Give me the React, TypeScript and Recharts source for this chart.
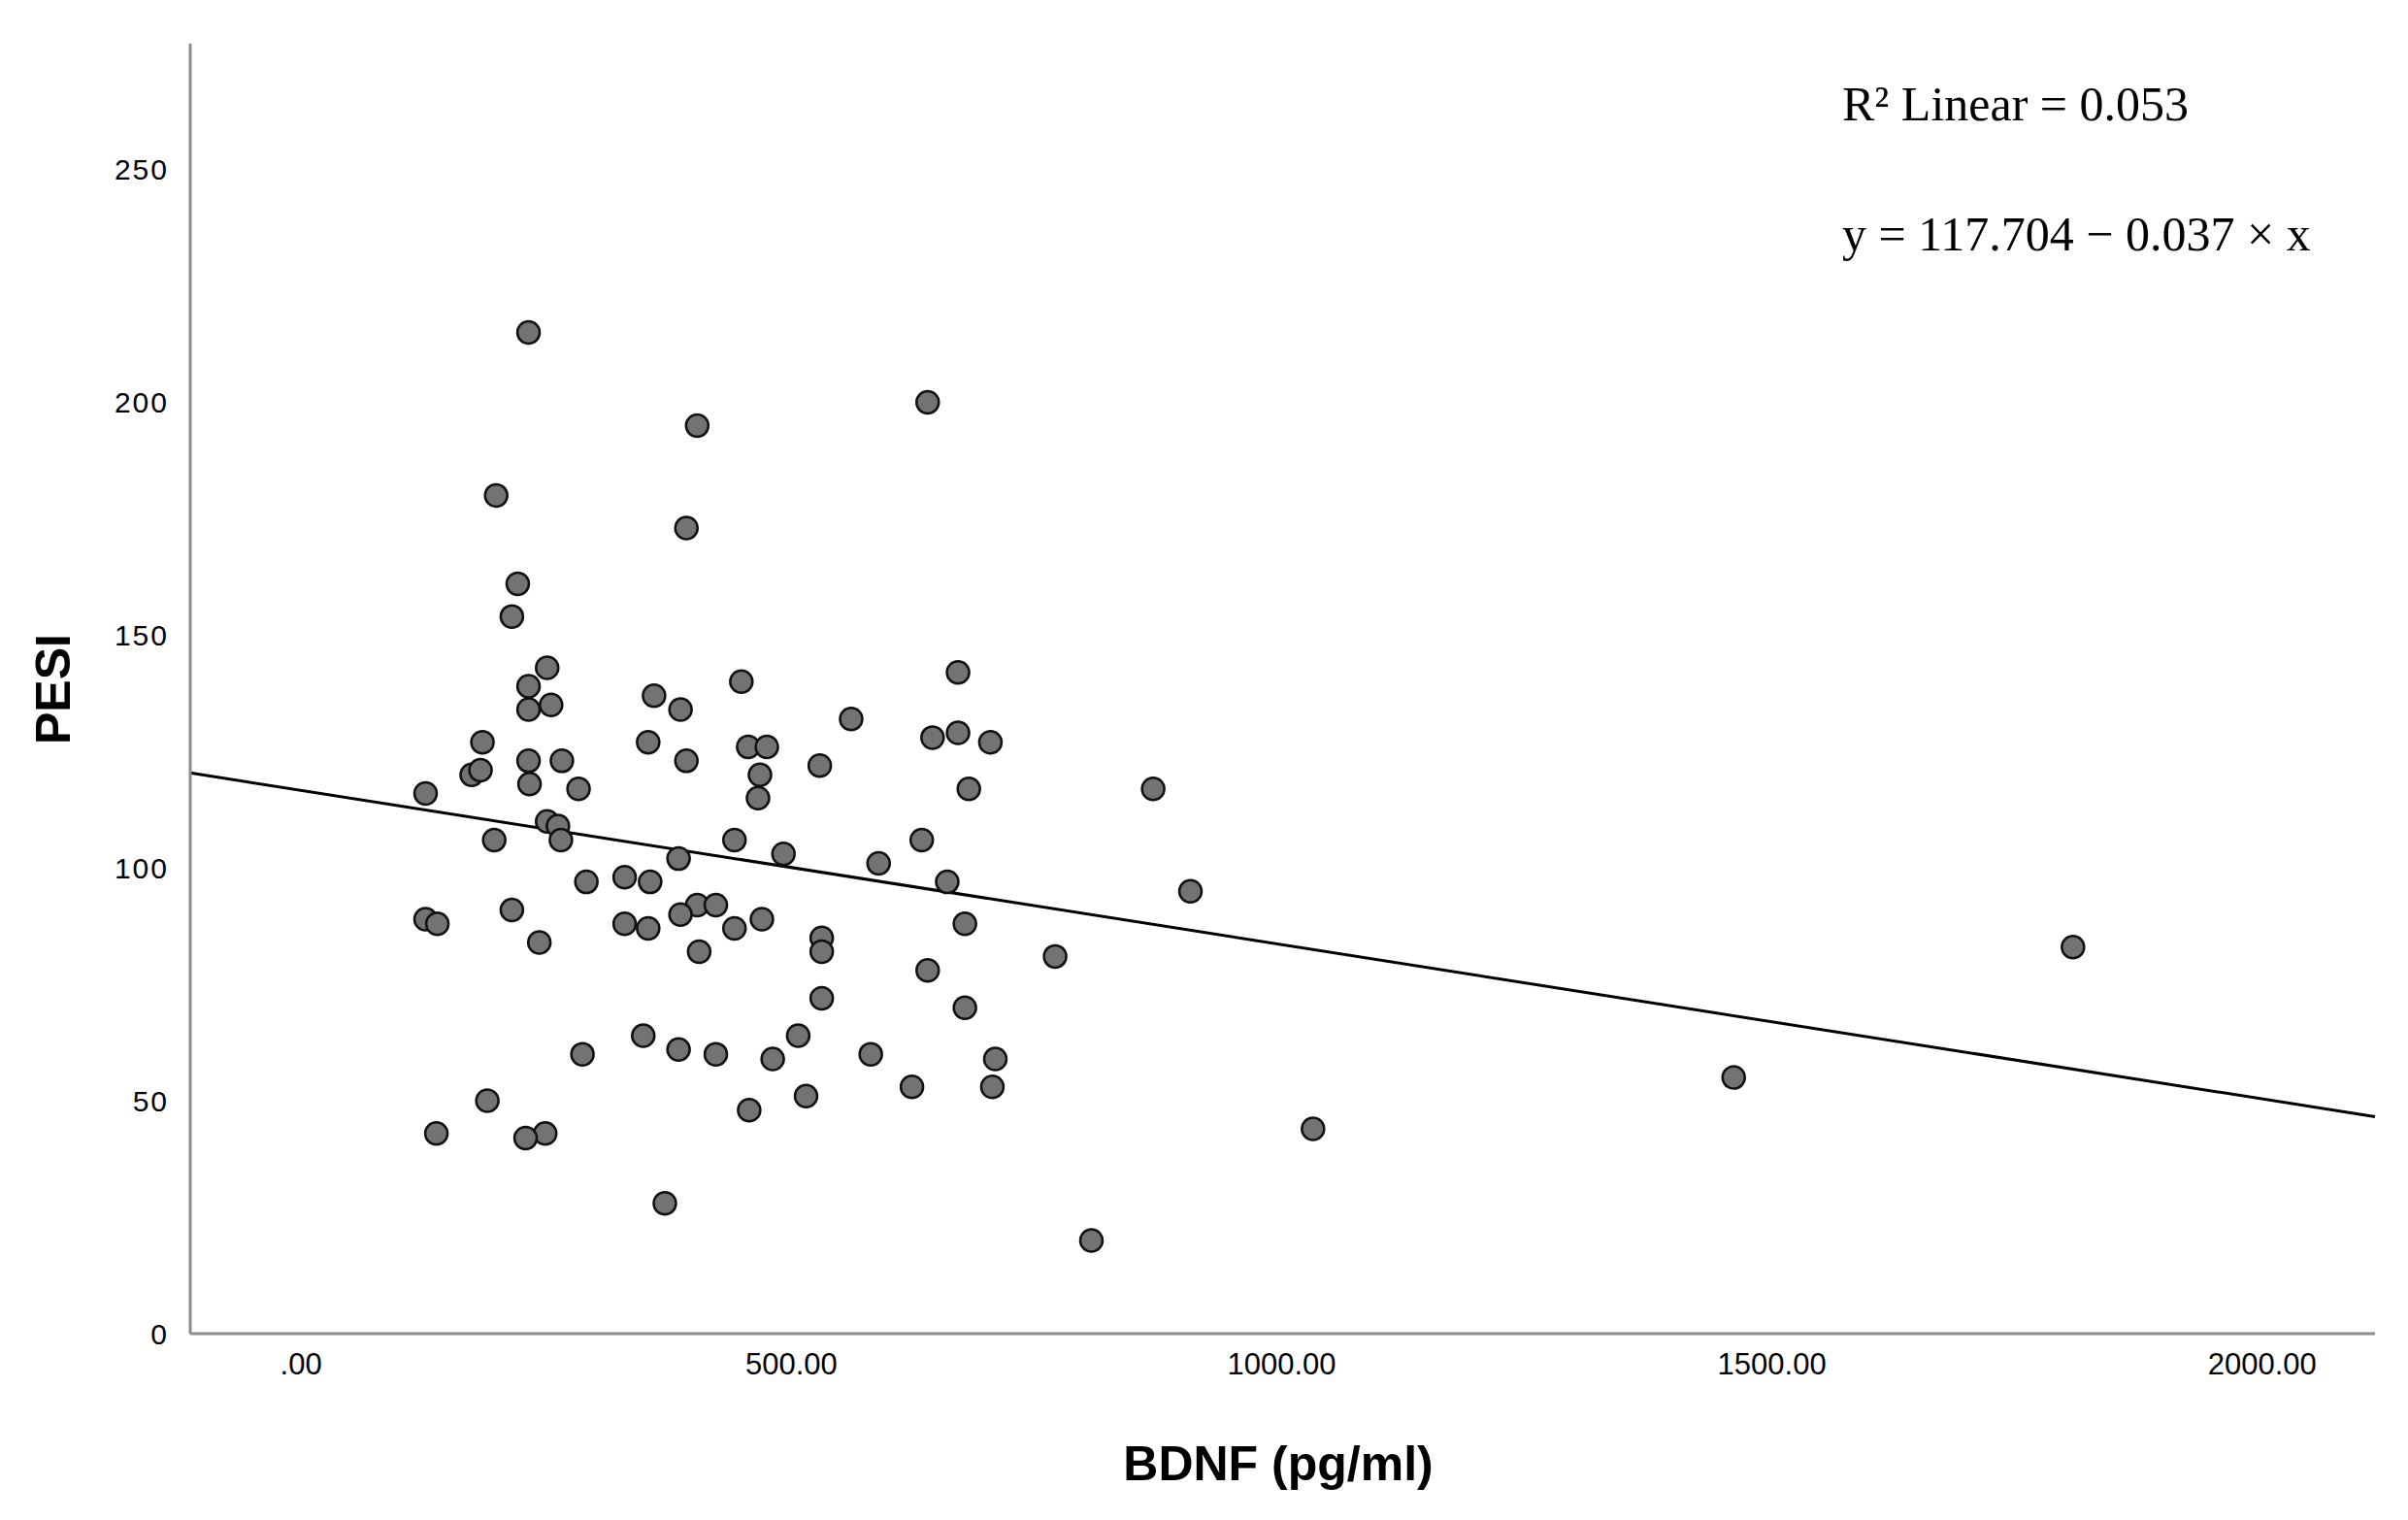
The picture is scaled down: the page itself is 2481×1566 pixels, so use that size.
import React from "react";
import { ScatterChart, Scatter, XAxis, YAxis, ReferenceLine, Label } from "recharts";

const bdnf: number[] = [
  232, 639, 404, 199, 393, 221, 215, 251, 670, 232,
  449, 360, 232, 255, 387, 561, 185, 354, 456, 475,
  644, 670, 703, 174, 183, 232, 266, 393, 529, 468,
  233, 283, 127, 681, 869, 466, 251, 262, 265, 197,
  442, 633, 492, 385, 589, 330, 356, 291, 659, 907,
  404, 423, 215, 387, 127, 139, 330, 677, 470, 354,
  442, 531, 243, 406, 531, 1807, 769, 639, 531, 677,
  349, 507, 287, 385, 423, 581, 481, 708, 1461, 623,
  705, 515, 190, 457, 138, 249, 229, 1032, 371, 806,
];
const pesi: number[] = [
  215, 200, 195, 180, 173, 161, 154, 143, 142, 139,
  140, 137, 134, 135, 134, 132, 127, 127, 126, 126,
  128, 129, 127, 120, 121, 123, 123, 123, 122, 120,
  118, 117, 116, 117, 117, 115, 110, 109, 106, 106,
  106, 106, 103, 102, 101, 98, 97, 97, 97, 95,
  92, 92, 91, 90, 89, 88, 88, 88, 89, 87,
  87, 85, 84, 82, 82, 83, 81, 78, 72, 70,
  64, 64, 60, 61, 60, 60, 59, 59, 55, 53,
  53, 51, 50, 48, 43, 43, 42, 44, 28, 20,
];

const xTicks: number[] = [0, 500, 1000, 1500, 2000];
const yTicks: number[] = [0, 50, 100, 150, 200, 250];
const fitStart = { x: -113, y: 120.4 };
const fitEnd = { x: 2115, y: 46.6 };
const r2Text = "R\u00B2 Linear = 0.053";
const eqText = "y = 117.704 \u2212 0.037 \u00D7 x";

const points = bdnf.map((x, i) => ({ x, y: pesi[i] }));

const fmtX = (v: number) => (v === 0 ? ".00" : v.toFixed(2));

const Dot = (props: any) => {
  const { cx, cy } = props;
  if (cx == null || cy == null) return null;
  return <circle cx={cx} cy={cy} r={11.5} fill="#737373" stroke="#111" strokeWidth={2.5} />;
};

export default function App() {
  return (
    <div style={{ position: "absolute", left: 0, top: 0, width: 2481, height: 1566, background: "#fff" }}>
      <ScatterChart
        width={2481}
        height={1566}
        margin={{ top: 45, right: 34, bottom: 132, left: 76 }}
      >
        <XAxis
          type="number"
          dataKey="x"
          domain={[-113, 2115]}
          ticks={xTicks}
          tickFormatter={fmtX}
          allowDataOverflow
          tickLine={false}
          axisLine={{ stroke: "#8c8c8c", strokeWidth: 3 }}
          tick={{ fill: "#000", fontSize: 31, fontFamily: "Liberation Sans, Arial, sans-serif" }}
          tickMargin={14}
          height={60}
        >
          <Label
            content={() => (
              <text
                x={1317}
                y={1525}
                textAnchor="middle"
                fontSize={50}
                fontWeight="bold"
                fontFamily="Liberation Sans, Arial, sans-serif"
                fill="#000"
              >
                BDNF (pg/ml)
              </text>
            )}
          />
        </XAxis>
        <YAxis
          type="number"
          dataKey="y"
          domain={[0, 277]}
          ticks={yTicks}
          allowDataOverflow
          tickLine={false}
          axisLine={{ stroke: "#8c8c8c", strokeWidth: 3 }}
          tick={{ fill: "#000", fontSize: 30, letterSpacing: 2, fontFamily: "Liberation Sans, Arial, sans-serif" }}
          tickMargin={16}
          width={120}
        >
          <Label
            content={() => (
              <text
                x={72}
                y={710}
                textAnchor="middle"
                transform="rotate(-90 72 710)"
                fontSize={50}
                fontWeight="bold"
                fontFamily="Liberation Sans, Arial, sans-serif"
                fill="#000"
              >
                PESI
              </text>
            )}
          />
        </YAxis>
        <ReferenceLine
          segment={[fitStart, fitEnd]}
          stroke="#000"
          strokeWidth={3}
          ifOverflow="visible"
        />
        <Scatter data={points} shape={<Dot />} isAnimationActive={false} />
        <ReferenceLine
          y={277}
          stroke="none"
          ifOverflow="visible"
          label={{
            content: () => (
              <g fontFamily="Liberation Serif, Times New Roman, serif" fill="#000" fontSize={50}>
                <text x={1898} y={124}>{r2Text}</text>
                <text x={1898} y={258}>{eqText}</text>
              </g>
            ),
          }}
        />
      </ScatterChart>
    </div>
  );
}
